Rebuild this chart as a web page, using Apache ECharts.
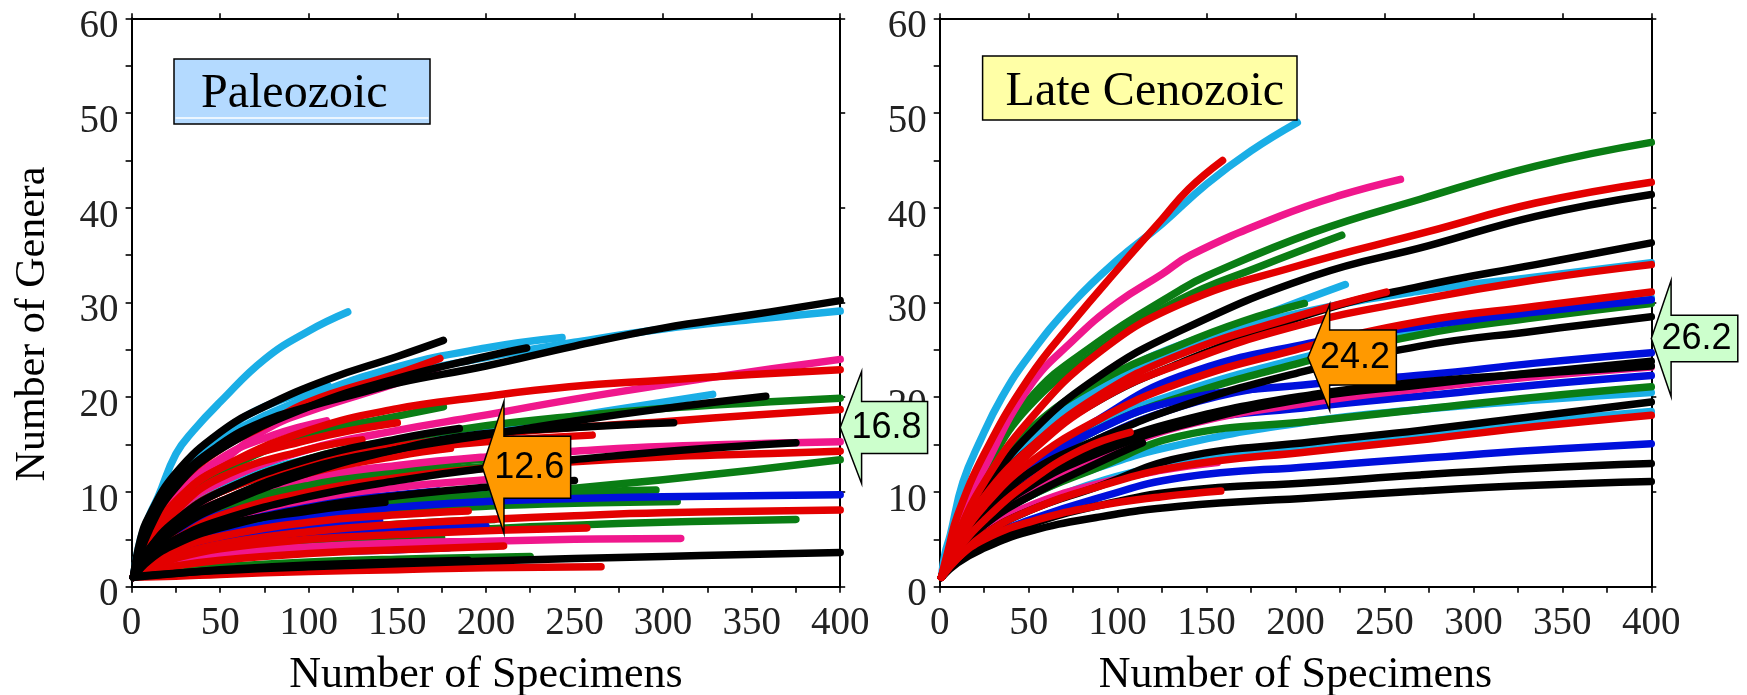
<!DOCTYPE html>
<html>
<head>
<meta charset="utf-8">
<script src="https://cdn.jsdelivr.net/npm/echarts@6/dist/echarts.min.js"></script>
<style>
  html, body { margin: 0; padding: 0; background: #ffffff; }
  #chart { width: 1747px; height: 695px; }
</style>
</head>
<body>
<div id="chart"></div>
<script>
// ---------------------------------------------------------------------------
// Rarefaction curves: [specimens, genera] pairs, grouped by panel and colour
// ---------------------------------------------------------------------------
const panelTitles = ['Paleozoic', 'Late Cenozoic'];
const xTitle = 'Number of Specimens';
const yTitle = 'Number of Genera';

const paleoLightBlue = [
  [[1,1],[5,5],[10,7.5],[15,9.5],[25,14],[35,16.5],[50,19.5],[75,24],[100,27],[122,29]],
  [[1,1],[5,4],[10,6.5],[25,11],[50,15],[100,19.8],[150,22.3],[200,24.2],[250,25.8],[300,27.2],[350,28.2],[400,29.1]],
  [[1,1],[5,4.2],[10,6.5],[25,11.5],[50,15.5],[100,20],[150,23.2],[200,25.2],[243,26.3]],
  [[1,1],[5,4],[10,6.5],[25,11.5],[50,16],[75,19],[111,21.2]],
  [[1,1],[10,4.5],[25,7.5],[50,10.5],[100,13.5],[150,15],[196,16.3],[250,18],[328,20.3]],
  [[1,1],[10,3.5],[25,5.5],[50,7.3],[100,8.8],[150,9.5],[202,10]]
];
const paleoGreen = [
  [[1,1],[10,4],[25,7],[50,10],[100,13.5],[150,15.5],[200,17],[250,18],[300,18.8],[350,19.4],[400,19.9]],
  [[1,1],[10,5],[25,8.5],[50,12],[100,16],[150,18],[176,19]],
  [[1,1],[10,2.8],[25,4.5],[50,6],[100,7.8],[150,8.8],[200,9.6],[250,10.4],[300,11.3],[350,12.3],[400,13.4]],
  [[1,1],[10,3],[25,5],[50,6.8],[100,8.4],[150,9.2],[200,9.7],[250,10],[296,10.2]],
  [[1,1],[10,2.7],[25,4.3],[50,5.8],[100,7.2],[150,8],[200,8.5],[250,8.8],[308,9]],
  [[1,1],[10,2],[25,3],[50,4],[100,5],[150,5.6],[200,6.1],[250,6.5],[300,6.8],[375,7.1]],
  [[1,1],[25,1.7],[50,2.1],[100,2.6],[150,2.9],[225,3.2]],
  [[1,1],[10,3.5],[25,6],[50,8.5],[100,11],[150,12.5],[200,13.5],[240,14]],
  [[1,1],[10,2],[25,3],[50,3.8],[100,4.6],[150,5],[175,5.2]],
  [[1,1],[10,3.2],[25,5.5],[50,7.8],[100,10.3],[150,11.8],[200,12.7],[260,13.4]],
  [[1,1],[10,1.8],[25,2.6],[50,3.3],[100,4],[130,4.3]],
  [[1,1],[10,2.4],[25,3.6],[50,4.7],[100,5.9],[150,6.6],[205,7.1]]
];
const paleoBlue = [
  [[1,1],[10,2.5],[25,4],[50,5.5],[100,7.3],[150,8.4],[200,9],[250,9.3],[300,9.5],[350,9.6],[400,9.7]],
  [[1,1],[10,3],[25,5],[50,7],[100,8.8],[150,9.7],[173,10.1]],
  [[1,1],[10,1.8],[25,2.4],[50,3],[100,3.6],[150,3.9],[179,4.1]],
  [[1,1],[10,2.5],[25,3.8],[50,5],[100,6.3],[140,7]],
  [[1,1],[10,2],[25,3],[50,4],[100,5.2],[150,5.9],[200,6.4]],
  [[1,1],[10,3.2],[25,5.4],[50,7.6],[100,9.8],[125,10.6]]
];
const paleoPink = [
  [[1,1],[10,5],[25,9],[50,13],[75,16.5],[100,18.5],[150,21.5],[173,23.1]],
  [[1,1],[10,4.5],[25,8],[50,11],[100,14.5],[150,16.5],[196,18],[250,19.8],[300,21.3],[350,22.7],[400,24]],
  [[1,1],[10,4],[25,6.5],[50,9],[100,11.5],[150,12.8],[200,13.7],[250,14.3],[300,14.8],[400,15.3]],
  [[1,1],[10,2],[25,2.8],[50,3.5],[100,4.2],[150,4.6],[200,4.8],[250,5],[310,5.1]],
  [[1,1],[10,3],[25,5],[50,7],[100,9.2],[150,10.5],[200,11.3],[240,11.8]],
  [[1,1],[10,5],[25,9.5],[50,13.5],[80,16],[110,17.5]]
];
const paleoRed = [
  [[1,1],[5,4],[10,6],[25,10.5],[50,14.5],[75,17],[100,19.5],[150,22.5],[174,24.1]],
  [[1,1],[10,5],[25,9],[50,12.5],[100,16.5],[150,18.8],[196,20],[247,21.1],[300,21.8],[350,22.4],[400,22.9]],
  [[1,1],[10,4],[25,7],[50,10],[100,13],[150,14.8],[200,16],[250,16.8],[306,17.5],[350,18.1],[400,18.7]],
  [[1,1],[10,3],[25,5],[50,7.5],[100,10],[150,11.5],[200,12.5],[250,13.2],[300,13.7],[350,14],[400,14.3]],
  [[1,1],[10,2.2],[25,3.3],[50,4.5],[100,5.8],[150,6.6],[200,7.1],[250,7.5],[300,7.8],[400,8.1]],
  [[1,1],[10,2],[25,3],[50,4],[100,5],[150,5.5],[200,5.9],[257,6.2]],
  [[1,1],[25,1.1],[50,1.3],[100,1.6],[150,1.8],[200,2],[265,2.1]],
  [[1,1],[10,5],[25,9],[50,12.5],[100,15.5],[150,17.3]],
  [[1,1],[10,4],[25,7],[50,10],[100,12.8],[150,14.3],[200,15.3],[260,16]],
  [[1,1],[10,4.5],[25,8],[50,11.5],[100,14.5],[130,15.5]],
  [[1,1],[10,3.5],[25,6],[50,9],[100,12],[150,13.8],[180,14.6]],
  [[1,1],[10,1.6],[25,2.2],[50,2.8],[100,3.5],[150,3.9],[210,4.3]],
  [[1,1],[10,2.6],[25,4],[50,5.3],[100,6.8],[150,7.6],[190,8]]
];
const paleoBlack = [
  [[1,1],[5,5],[10,7.5],[25,12],[50,16.3],[75,19],[111,21.9],[150,24.3],[176,26]],
  [[1,1],[5,4.5],[10,6.5],[25,11],[50,15],[75,17.5],[100,19],[128,20.4],[150,21.5],[200,23.3],[250,25.4],[300,27.3],[350,28.7],[400,30.2]],
  [[1,1],[10,6],[25,10.5],[50,14.5],[100,19],[150,22],[200,24.3],[223,25.2]],
  [[1,1],[10,4],[25,6.5],[50,9],[100,12.5],[150,14.5],[200,16],[250,17.5],[300,18.8],[358,20.1]],
  [[1,1],[10,3.5],[25,6],[50,8.5],[100,12],[150,14.5],[196,16.1],[250,16.8],[306,17.3]],
  [[1,1],[10,3],[25,5],[50,7],[100,9.5],[150,11.2],[200,12.5],[249,13.4],[310,14.4],[375,15.2]],
  [[1,1],[10,3],[25,5],[50,6.5],[100,8],[143,8.9]],
  [[1,1],[10,1.2],[50,1.7],[100,2.1],[200,2.7],[300,3.2],[400,3.6]],
  [[1,1],[25,1.4],[50,1.8],[100,2.3],[150,2.6],[190,2.8]],
  [[1,1],[10,2.8],[25,4.5],[50,6.2],[100,8.3],[150,9.6],[200,10.5],[250,11.2]],
  [[1,1],[10,4],[25,7],[50,10],[100,13.5],[150,15.6],[185,16.7]]
];

const cenoLightBlue = [
  [[1,1],[3,3.5],[6,5.5],[13,11],[23,15.5],[35,20],[50,24.3],[75,30],[100,34.5],[125,38.3],[150,42.5],[175,46],[201,49]],
  [[1,1],[10,5],[25,10],[50,15.5],[88,21],[135,25.5],[200,28.8],[270,31.2],[335,32.7],[400,34.2]],
  [[1,1],[10,4.5],[25,8.5],[50,12.5],[88,17],[135,20.5],[200,24],[270,27.1],[335,29],[400,30.5]],
  [[1,1],[10,5],[25,10],[50,15],[88,20.5],[135,25],[180,28.5],[228,31.9]],
  [[1,1],[10,3.5],[25,6.5],[50,9.5],[88,12.5],[135,15],[210,17.5],[270,18.7],[335,19.7],[400,20.5]],
  [[1,1],[10,3],[25,5.5],[50,8],[88,11],[135,13],[210,15],[275,16.2],[335,17.4],[400,18.5]]
];
const cenoGreen = [
  [[1,1],[10,6],[25,12],[50,19.7],[88,25.7],[135,31.3],[150,32.8],[210,37.4],[270,40.9],[335,44.4],[400,46.9]],
  [[1,1],[10,6],[25,12],[50,19],[88,24.8],[135,30.3],[180,33.8],[226,37.1]],
  [[1,1],[10,4],[25,8],[50,12],[88,16.5],[135,20],[200,23.5],[270,26.6],[335,28.4],[400,29.9]],
  [[1,1],[10,5.5],[25,11],[50,16.5],[88,21.5],[135,25.5],[170,28],[205,29.9]],
  [[1,1],[10,3.5],[25,6.5],[50,9.5],[88,12.5],[135,15.9],[210,17.5],[275,18.8],[335,20],[400,21.1]]
];
const cenoBlue = [
  [[1,1],[10,4],[25,8],[50,12.5],[88,17.5],[135,22.2],[208,25.7],[270,27.5],[335,29],[400,30.3]],
  [[1,1],[10,3.8],[25,7.5],[50,12],[88,16.5],[135,19.7],[210,21.4],[275,22.4],[335,23.6],[400,24.7]],
  [[1,1],[10,3.5],[25,6.5],[50,10],[88,14],[135,17.2],[210,19],[275,20.2],[335,21.3],[400,22.3]],
  [[1,1],[10,3],[25,5],[50,7],[88,9.3],[135,11.5],[210,12.7],[275,13.6],[335,14.4],[400,15.1]],
  [[1,1],[10,4],[25,7.5],[50,11.5],[88,15.5],[135,19],[180,21]]
];
const cenoPink = [
  [[1,1],[10,6.5],[25,12.5],[50,21],[75,26],[100,30],[125,33],[141,35],[191,39.1],[225,41.3],[259,43]],
  [[1,1],[10,3.5],[25,6.5],[50,10],[88,13.5],[135,16.9],[210,19.5],[275,21],[335,22.2],[400,23.2]],
  [[1,1],[10,3.5],[25,6],[50,8.5],[88,10.8],[125,12.3],[156,13.1]]
];
const cenoBlack = [
  [[1,1],[10,5],[25,10],[50,16],[88,22],[135,27],[210,32.8],[275,36],[335,39.1],[400,41.4]],
  [[1,1],[10,5],[25,9.5],[50,14.5],[88,19.5],[135,23.6],[210,28.9],[270,31.7],[335,34],[400,36.3]],
  [[1,1],[10,4.5],[25,8],[50,12],[88,15.5],[135,19],[200,22.5],[270,25.4],[335,27],[400,28.5]],
  [[1,1],[10,3.5],[25,7],[50,10.5],[88,14],[135,17],[210,20],[270,21.3],[335,22.6],[400,23.8]],
  [[1,1],[10,4],[25,7.5],[50,11],[88,14.5],[135,17.5],[210,20.3],[270,21.6],[335,22.5],[400,23.3]],
  [[1,1],[10,3],[25,5.5],[50,8],[88,10.5],[135,13.6],[210,15.3],[270,16.5],[335,18],[400,19.5]],
  [[1,1],[10,2.8],[25,4.5],[50,6.5],[88,8.5],[135,10.1],[210,11],[270,11.8],[335,12.5],[400,13]],
  [[1,1],[10,2.5],[23,3.9],[50,5.8],[88,7.3],[135,8.5],[210,9.4],[270,10.1],[335,10.7],[400,11.1]],
  [[1,1],[10,3.5],[25,6.5],[50,9.5],[88,13],[114,15.2]]
];
const cenoRed = [
  [[1,1],[5,4],[10,7.5],[25,14],[50,22],[75,28],[100,33.5],[125,38.8],[140,42],[159,45]],
  [[1,1],[10,5.5],[25,11],[50,17.5],[88,24.5],[135,29.8],[200,33.8],[275,37.5],[335,40.5],[400,42.7]],
  [[1,1],[10,4.5],[25,9],[50,14],[88,19.5],[135,23.5],[200,27.5],[270,30.3],[335,32.4],[400,34]],
  [[1,1],[10,4.5],[25,8.5],[50,13],[88,17.5],[135,21.5],[200,25],[270,28],[335,29.6],[400,31.1]],
  [[1,1],[10,5],[25,9.5],[50,14.5],[88,20],[135,24.5],[200,28.5],[251,31.1]],
  [[1,1],[10,3],[25,5.5],[50,8],[88,10.5],[135,12.7],[210,14.3],[275,15.6],[335,16.9],[400,18.1]],
  [[1,1],[10,3],[25,5],[50,6.8],[88,8.5],[125,9.5],[158,10.1]],
  [[1,1],[10,3.8],[25,7],[50,11],[80,14.5],[107,16.3]]
];

// Mean rarefied richness callouts: sample size and genera
const paleoCalloutN = [198, 400];
const paleoCalloutValue = [12.6, 16.8];
const cenoCalloutN = [207, 400];
const cenoCalloutValue = [24.2, 26.2];

// ---------------------------------------------------------------------------
const COLORS = {
  black: '#000000', red: '#e30000', pink: '#f0178c',
  green: '#0a7d14', blue: '#0010dc', lightBlue: '#1aaee6'
};
const SERIF = '"Liberation Serif", "Times New Roman", serif';
const SANS = '"Liberation Sans", Arial, sans-serif';

const panels = [
  { grid: { left: 131.6, top: 18.3, width: 708.6, height: 568.4 },
    groups: [[paleoLightBlue, 'lightBlue'], [paleoGreen, 'green'], [paleoBlue, 'blue'],
             [paleoPink, 'pink'], [paleoRed, 'red'], [paleoBlack, 'black']] },
  { grid: { left: 939.7, top: 18.3, width: 711.6, height: 568.4 },
    groups: [[cenoLightBlue, 'lightBlue'], [cenoGreen, 'green'], [cenoBlue, 'blue'],
             [cenoPink, 'pink'], [cenoBlack, 'black'], [cenoRed, 'red']] }
];

const axisLineStyle = { color: '#000', width: 2 };
const tickStyle = { color: '#000', width: 1.6 };
const tickFont = { fontFamily: SERIF, fontSize: 39, color: '#222' };

const grids = [], xAxes = [], yAxes = [], series = [];
panels.forEach((p, i) => {
  grids.push(Object.assign({ containLabel: false, outerBoundsMode: 'none' }, p.grid));
  // bottom axis with labels and title
  xAxes.push({
    type: 'value', gridIndex: i, position: 'bottom', min: 0, max: 400, interval: 50,
    axisLine: { show: true, onZero: false, lineStyle: axisLineStyle },
    axisTick: { show: true, inside: false, length: 6, lineStyle: tickStyle },
    minorTick: { show: true, splitNumber: 2, length: 6, lineStyle: tickStyle },
    splitLine: { show: false }, minorSplitLine: { show: false },
    axisLabel: Object.assign({ show: true, margin: 18 }, tickFont),
    name: xTitle, nameLocation: 'middle', nameGap: 67,
    nameTextStyle: { fontFamily: SERIF, fontSize: 44, color: '#000' }
  });
  // top frame axis
  xAxes.push({
    type: 'value', gridIndex: i, position: 'top', min: 0, max: 400, interval: 50,
    axisLine: { show: true, onZero: false, lineStyle: axisLineStyle },
    axisTick: { show: true, inside: false, length: 5, lineStyle: tickStyle },
    axisLabel: { show: false }, splitLine: { show: false }
  });
  // left axis with labels (set slightly below their ticks)
  yAxes.push({
    type: 'value', gridIndex: i, position: 'left', min: 0, max: 60, interval: 10,
    axisLine: { show: true, onZero: false, lineStyle: axisLineStyle },
    axisTick: { show: true, inside: false, length: 6, lineStyle: tickStyle },
    minorTick: { show: true, splitNumber: 2, length: 6, lineStyle: tickStyle },
    splitLine: { show: false }, minorSplitLine: { show: false },
    axisLabel: Object.assign({ show: true, margin: 13, verticalAlign: 'top', lineHeight: 17 }, tickFont)
  });
  // right frame axis
  yAxes.push({
    type: 'value', gridIndex: i, position: 'right', min: 0, max: 60, interval: 10,
    axisLine: { show: true, onZero: false, lineStyle: axisLineStyle },
    axisTick: { show: true, inside: false, length: 5, lineStyle: tickStyle },
    axisLabel: { show: false }, splitLine: { show: false }
  });

  p.groups.forEach(([curves, colorKey]) => {
    curves.forEach(pts => {
      series.push({
        type: 'line', xAxisIndex: i * 2, yAxisIndex: i * 2, data: pts,
        symbol: 'none', showSymbol: false, smooth: 0.45,
        clip: false, silent: true, animation: false,
        lineStyle: { color: COLORS[colorKey], width: 7.5, cap: 'round', join: 'round' }
      });
    });
  });
});

const chart = echarts.init(document.getElementById('chart'), null, { renderer: 'canvas' });
chart.setOption({
  backgroundColor: '#ffffff',
  animation: false,
  grid: grids, xAxis: xAxes, yAxis: yAxes, series: series
});

// --- overlay: panel name boxes, y title and value callouts ---------------
const graphics = [];

graphics.push({
  type: 'text', x: 33, y: 324, rotation: Math.PI / 2, z: 50,
  style: { text: yTitle, font: '42px ' + SERIF, fill: '#000', textAlign: 'center', textVerticalAlign: 'middle' }
});

// Panel name boxes
graphics.push({ type: 'rect', z: 50, shape: { x: 174, y: 59, width: 256, height: 65 },
  style: { fill: '#b4daff', stroke: '#000', lineWidth: 1.5 } });
graphics.push({ type: 'line', z: 51, shape: { x1: 175.5, y1: 118, x2: 428.5, y2: 118 },
  style: { stroke: '#ffffff', lineWidth: 1.5 } });
graphics.push({ type: 'text', z: 52, x: 201, y: 94,
  style: { text: panelTitles[0], font: '48px ' + SERIF, fill: '#000', textAlign: 'left', textVerticalAlign: 'middle' } });

graphics.push({ type: 'rect', z: 50, shape: { x: 982.6, y: 56, width: 314.4, height: 64 },
  style: { fill: '#ffffa6', stroke: '#000', lineWidth: 1.5 } });
graphics.push({ type: 'text', z: 52, x: 1005.6, y: 92,
  style: { text: panelTitles[1], font: '48px ' + SERIF, fill: '#000', textAlign: 'left', textVerticalAlign: 'middle' } });

// Left-pointing callout arrows whose tip sits at (sample size, genera)
function callout(gridIndex, n, value, fill, dims) {
  const [tx, ty] = chart.convertToPixel({ gridIndex: gridIndex }, [n, value]);
  const bx = tx + dims.head;
  const pts = [
    [tx, ty],
    [bx, ty - dims.headHalf], [bx, ty - dims.boxHalf],
    [bx + dims.boxW, ty - dims.boxHalf], [bx + dims.boxW, ty + dims.boxHalf],
    [bx, ty + dims.boxHalf], [bx, ty + dims.headHalf]
  ];
  graphics.push({ type: 'polygon', z: 60, shape: { points: pts },
    style: { fill: fill, stroke: '#000', lineWidth: 1.5 } });
  graphics.push({ type: 'text', z: 61, x: bx + dims.boxW / 2 - 8, y: ty + 1,
    style: { text: value.toFixed(1), font: '36px ' + SANS, fill: '#000', textAlign: 'center', textVerticalAlign: 'middle' } });
}
const ORANGE = '#ff9900', MINT = '#ccffcc';
callout(0, paleoCalloutN[0], paleoCalloutValue[0], ORANGE, { head: 21.6, headHalf: 66, boxHalf: 31, boxW: 66.7 });
callout(0, paleoCalloutN[1], paleoCalloutValue[1], MINT,   { head: 21.4, headHalf: 56, boxHalf: 26, boxW: 66 });
callout(1, cenoCalloutN[0], cenoCalloutValue[0], ORANGE,   { head: 21.7, headHalf: 53, boxHalf: 27.5, boxW: 66.7 });
callout(1, cenoCalloutN[1], cenoCalloutValue[1], MINT,     { head: 19.8, headHalf: 58, boxHalf: 23.3, boxW: 66.7 });

chart.setOption({ graphic: graphics });
</script>
</body>
</html>
